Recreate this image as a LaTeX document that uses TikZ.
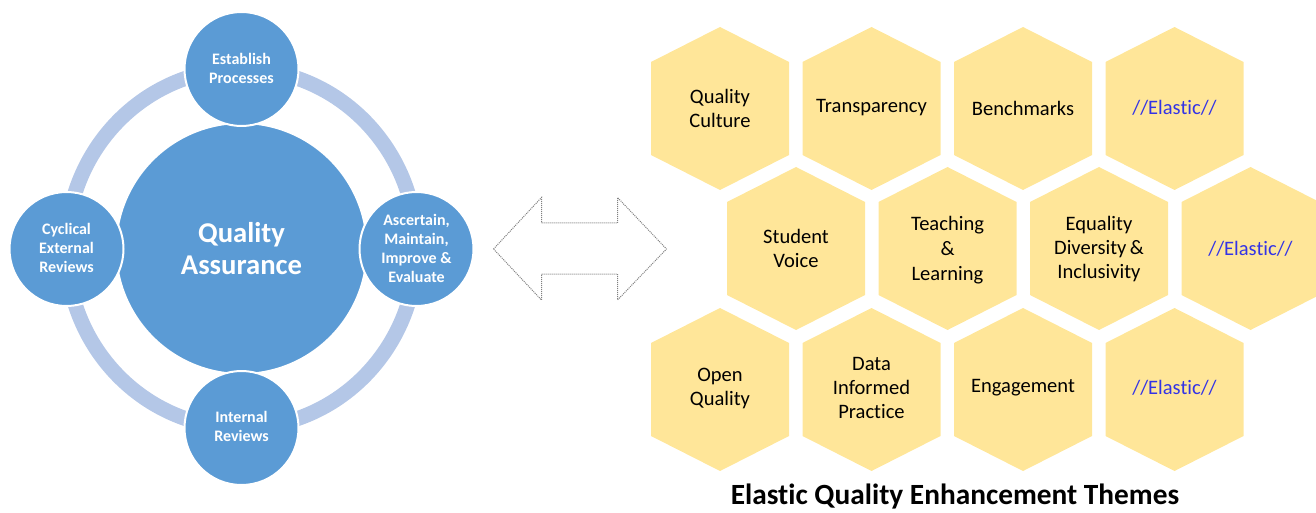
\documentclass[tikz,border=0pt]{standalone}
\usepackage{fontspec}
\setmainfont{Carlito}[Ligatures=NoCommon]
\tikzset{every picture/.style={line width=0.75pt}}
\definecolor{qablue}{RGB}{91,155,213}
\definecolor{ringblue}{RGB}{180,199,231}
\definecolor{themegold}{RGB}{255,230,153}
\definecolor{elasticblue}{RGB}{51,51,230}
\tikzset{
  hexfill/.style={fill=themegold, draw opacity=0},
  hextext/.style={align=center, inner sep=0.75pt, font=\fontsize{15.4}{18}\selectfont},
  disc/.style={color=white, fill=qablue, line width=1.5},
  disctext/.style={align=center, inner sep=0.75pt, text=white, font=\bfseries\fontsize{12}{14.25}\selectfont},
}

\begin{document}
\begin{tikzpicture}[x=0.75pt,y=0.75pt,yscale=-1,xscale=1]
\useasboundingbox (0,0) rectangle (1316,513); %diagram is 1316 wide and 513 high

%Shape: Ellipse (cycle ring)
\draw [color=ringblue, line width=11.25] (241.5,248.5) circle [x radius=175, y radius=179.5] ;
%Shape: Circle (centre)
\draw [disc] (241.5,248.5) circle [x radius=125.5, y radius=125.5] ;
%Shape: Circle (top)
\draw [disc] (241.5,69) circle [x radius=57, y radius=57] ;
%Shape: Circle (right)
\draw [disc] (416.5,249) circle [x radius=57, y radius=57] ;
%Shape: Circle (bottom)
\draw [disc] (241.5,428) circle [x radius=57, y radius=57] ;
%Shape: Circle (left)
\draw [disc] (66.5,249) circle [x radius=57, y radius=57] ;

%Shape: Double Arrow
\draw [color={rgb, 255:red, 128; green, 128; blue, 128 }, dash pattern={on 0.75pt off 0.75pt}]
  (493.5,249) -- (541.5,197.5) -- (541.5,223) -- (617.5,223) -- (617.5,197.5) -- (666.5,249)
  -- (617.5,300) -- (617.5,274) -- (541.5,274) -- (541.5,300) -- cycle ;

%Shape: Hexagon row 1
\fill [hexfill] (720,27) -- (789,62) -- (789,155) -- (720,190) -- (651,155) -- (651,62) -- cycle ;
\fill [hexfill] (871.5,27) -- (940.5,62) -- (940.5,155) -- (871.5,190) -- (802.5,155) -- (802.5,62) -- cycle ;
\fill [hexfill] (1023,27) -- (1092,62) -- (1092,155) -- (1023,190) -- (954,155) -- (954,62) -- cycle ;
\fill [hexfill] (1174.5,27) -- (1243.5,62) -- (1243.5,155) -- (1174.5,190) -- (1105.5,155) -- (1105.5,62) -- cycle ;
%Shape: Hexagon row 2
\fill [hexfill] (796,167) -- (865,202) -- (865,295) -- (796,330) -- (727,295) -- (727,202) -- cycle ;
\fill [hexfill] (947.5,167) -- (1016.5,202) -- (1016.5,295) -- (947.5,330) -- (878.5,295) -- (878.5,202) -- cycle ;
\fill [hexfill] (1099,167) -- (1168,202) -- (1168,295) -- (1099,330) -- (1030,295) -- (1030,202) -- cycle ;
\fill [hexfill] (1250.5,167) -- (1319.5,202) -- (1319.5,295) -- (1250.5,330) -- (1181.5,295) -- (1181.5,202) -- cycle ;
%Shape: Hexagon row 3
\fill [hexfill] (720,308) -- (789,343) -- (789,436) -- (720,471) -- (651,436) -- (651,343) -- cycle ;
\fill [hexfill] (871.5,308) -- (940.5,343) -- (940.5,436) -- (871.5,471) -- (802.5,436) -- (802.5,343) -- cycle ;
\fill [hexfill] (1023,308) -- (1092,343) -- (1092,436) -- (1023,471) -- (954,436) -- (954,343) -- cycle ;
\fill [hexfill] (1174.5,308) -- (1243.5,343) -- (1243.5,436) -- (1174.5,471) -- (1105.5,436) -- (1105.5,343) -- cycle ;

% Text Node
\draw (241.5,248.5) node [disctext, font=\bfseries\fontsize{21.5}{24}\selectfont] (qa) {Quality\\Assurance};
% Text Node
\draw (241.5,68) node [disctext] (establish) {Establish\\Processes};
% Text Node
\draw (416.5,248.5) node [disctext] (ascertain) {Ascertain,\\Maintain,\\Improve \&\\Evaluate};
% Text Node
\draw (241.5,426.5) node [disctext] (internal) {Internal\\Reviews};
% Text Node
\draw (66.5,248) node [disctext] (cyclical) {Cyclical\\External\\Reviews};

% Text Node
\draw (720,108) node [hextext] (culture) {Quality\\Culture};
% Text Node
\draw (871.5,107.5) node [hextext] (transparency) {Transparency};
% Text Node
\draw (1023,108) node [hextext] (benchmarks) {Benchmarks};
% Text Node
\draw (1174.5,108) node [hextext, text=elasticblue] (elasticA) {//Elastic//};
% Text Node
\draw (796,248) node [hextext] (voice) {Student\\Voice};
% Text Node
\draw (947.5,250) node [hextext, font=\fontsize{15.4}{19}\selectfont] (teaching) {Teaching\\\&\\Learning};
% Text Node
\draw (1099,249) node [hextext] (equality) {Equality\\Diversity\,\&\\Inclusivity};
% Text Node
\draw (1250.5,249) node [hextext, text=elasticblue] (elasticB) {//Elastic//};
% Text Node
\draw (720,388.5) node [hextext] (openq) {Open\\Quality};
% Text Node
\draw (871.5,388) node [hextext] (datainf) {Data\\Informed\\Practice};
% Text Node
\draw (1023,388) node [hextext] (engagement) {Engagement};
% Text Node
\draw (1174.5,388) node [hextext, text=elasticblue] (elasticC) {//Elastic//};

% Text Node
\draw (955,497) node [inner sep=0.75pt, font=\bfseries\fontsize{22}{26}\selectfont] (title) {Elastic Quality Enhancement Themes};

\end{tikzpicture}
\end{document}
